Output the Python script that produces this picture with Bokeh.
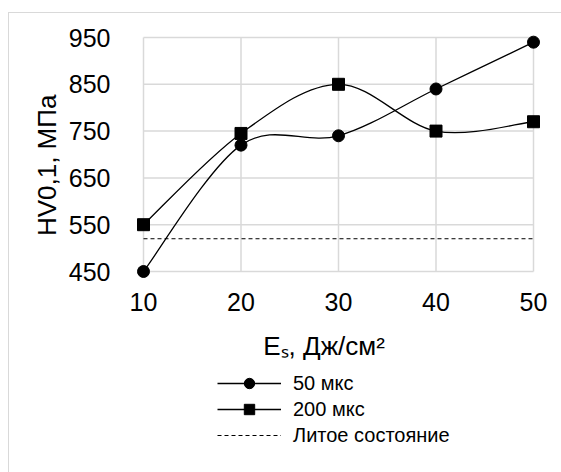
from bokeh.plotting import figure
from bokeh.layouts import column
from bokeh.models import (ColumnDataSource, Legend, LegendItem, FixedTicker, Range1d)
from bokeh.embed import file_html
from bokeh.resources import INLINE

# ---- data ----
energy = [10, 20, 30, 40, 50]
hv_50us = [450, 720, 740, 840, 940]
hv_200us = [550, 745, 850, 750, 770]
hv_cast = 520
x_ticks = [10, 20, 30, 40, 50]
y_ticks = [450, 550, 650, 750, 850, 950]
series_labels = ["50 мкс", "200 мкс", "Литое состояние"]
x_title = "Eₛ, Дж/см²"
y_title = "HV0,1, МПа"

FONT = "Liberation Sans"
GRID = "#d9d9d9"
NBSP = "\u00a0"


def smooth_segments(xs, ys):
    """Excel-like smoothed line: cubic Bezier pieces through the points."""
    n = len(xs)
    d = dict(x0=[], y0=[], x1=[], y1=[], cx0=[], cy0=[], cx1=[], cy1=[])
    for i in range(n - 1):
        i0 = max(i - 1, 0)
        i3 = min(i + 2, n - 1)
        d["x0"].append(xs[i]); d["y0"].append(ys[i])
        d["x1"].append(xs[i + 1]); d["y1"].append(ys[i + 1])
        d["cx0"].append(xs[i] + (xs[i + 1] - xs[i0]) / 6)
        d["cy0"].append(ys[i] + (ys[i + 1] - ys[i0]) / 6)
        d["cx1"].append(xs[i + 1] - (xs[i3] - xs[i]) / 6)
        d["cy1"].append(ys[i + 1] - (ys[i3] - ys[i]) / 6)
    return ColumnDataSource(d)


def draw_series(fig):
    """Draw the three series on a figure; returns the renderers for the legend."""
    r_cast = fig.line([energy[0], energy[-1]], [hv_cast, hv_cast], line_color="black",
                      line_width=1, line_dash="4 3")
    b1 = fig.bezier("x0", "y0", "x1", "y1", "cx0", "cy0", "cx1", "cy1",
                    source=smooth_segments(energy, hv_50us), line_color="black", line_width=1.3)
    s1 = fig.scatter(energy, hv_50us, marker="circle", size=12, fill_color="black", line_color="black")
    b2 = fig.bezier("x0", "y0", "x1", "y1", "cx0", "cy0", "cx1", "cy1",
                    source=smooth_segments(energy, hv_200us), line_color="black", line_width=1.3)
    s2 = fig.scatter(energy, hv_200us, marker="square", size=12, fill_color="black", line_color="black")
    return [b1, s1], [b2, s2], [r_cast]


# geometry (px)
OFF_X, OFF_Y = 9, 13          # figure origin on the page (after css margin + border)
W = 561 - OFF_X
H_MAIN = 354
H_LEG = 472 - OFF_Y - H_MAIN
PAD = 8
inner_w, inner_h = 390, 234
xpad = PAD * (x_ticks[-1] - x_ticks[0]) / inner_w
ypad = PAD * (y_ticks[-1] - y_ticks[0]) / inner_h

mb_left = 143 - PAD - OFF_X
mb_top = 37 - PAD - OFF_Y
p = figure(width=W, height=H_MAIN, output_backend="svg", toolbar_location=None,
           x_range=Range1d(x_ticks[0] - xpad, x_ticks[-1] + xpad),
           y_range=Range1d(y_ticks[0] - ypad, y_ticks[-1] + ypad),
           min_border_left=mb_left, min_border_right=W - mb_left - inner_w - 2 * PAD,
           min_border_top=mb_top, min_border_bottom=H_MAIN - mb_top - inner_h - 2 * PAD)
p.outline_line_color = None
p.xgrid.visible = False
p.ygrid.visible = False
p.background_fill_color = "white"
p.border_fill_color = "white"

# gridlines limited to the tick extent
p.segment(x0=x_ticks, y0=[y_ticks[0]] * len(x_ticks), x1=x_ticks, y1=[y_ticks[-1]] * len(x_ticks),
          line_color=GRID, line_width=1.5)
p.segment(x0=[x_ticks[0]] * len(y_ticks), y0=y_ticks, x1=[x_ticks[-1]] * len(y_ticks), y1=y_ticks,
          line_color=GRID, line_width=1.5)

draw_series(p)

# axes
for ax in (p.xaxis[0], p.yaxis[0]):
    ax.axis_line_color = None
    ax.major_tick_line_color = None
    ax.minor_tick_line_color = None
    ax.major_label_text_font = FONT
    ax.major_label_text_font_size = "25px"
    ax.major_label_text_color = "black"
    ax.axis_label_text_font = FONT
    ax.axis_label_text_font_size = "26px"
    ax.axis_label_text_font_style = "normal"
    ax.axis_label_text_color = "black"

p.xaxis.ticker = FixedTicker(ticks=x_ticks)
p.yaxis.ticker = FixedTicker(ticks=y_ticks)
p.xaxis.major_label_standoff = 7
p.yaxis.major_label_standoff = 19
# trailing no-break spaces nudge the centred titles the way the original sits
p.xaxis.axis_label = x_title + NBSP * 4
p.yaxis.axis_label = y_title + NBSP * 3
p.xaxis.axis_label_standoff = 17
p.yaxis.axis_label_standoff = 4

# ---- legend strip: own small figure, legend inside its frame ----
# (the series are drawn there too, but fall outside its 0..1 ranges, so only the legend shows)
q = figure(width=W, height=H_LEG, output_backend="svg", toolbar_location=None,
           x_range=Range1d(0, 1), y_range=Range1d(0, 1),
           x_axis_location=None, y_axis_location=None,
           min_border=0, min_border_left=0, min_border_right=0,
           min_border_top=0, min_border_bottom=0)
q.outline_line_color = None
q.xgrid.visible = False
q.ygrid.visible = False
q.background_fill_color = "white"
q.border_fill_color = "white"
q_r50, q_r200, q_cast = draw_series(q)

ROW_H, ROW_GAP = 26, 0
LEG_H = 3 * ROW_H + 2 * ROW_GAP
frame_left_page = OFF_X + mb_left          # frames of the column are aligned
legend_top_page = 370
legend = Legend(items=[
    LegendItem(label=series_labels[0], renderers=q_r50),
    LegendItem(label=series_labels[1], renderers=q_r200),
    LegendItem(label=series_labels[2], renderers=q_cast),
], location=(217 - frame_left_page, H_LEG - (legend_top_page - OFF_Y - H_MAIN) - LEG_H),
    orientation="vertical",
    label_text_font=FONT, label_text_font_size="20px", label_text_color="black",
    glyph_width=64, glyph_height=ROW_H, label_height=ROW_H, spacing=ROW_GAP,
    padding=0, margin=0, label_standoff=12, border_line_alpha=0, background_fill_alpha=0)
q.add_layout(legend)

layout = column(p, q, spacing=0,
                styles={"margin-left": "8px", "margin-top": "12px",
                        "border-left": "1px solid #d9d9d9", "border-top": "1px solid #d9d9d9"})

open("out.html", "w").write(file_html(layout, INLINE))
